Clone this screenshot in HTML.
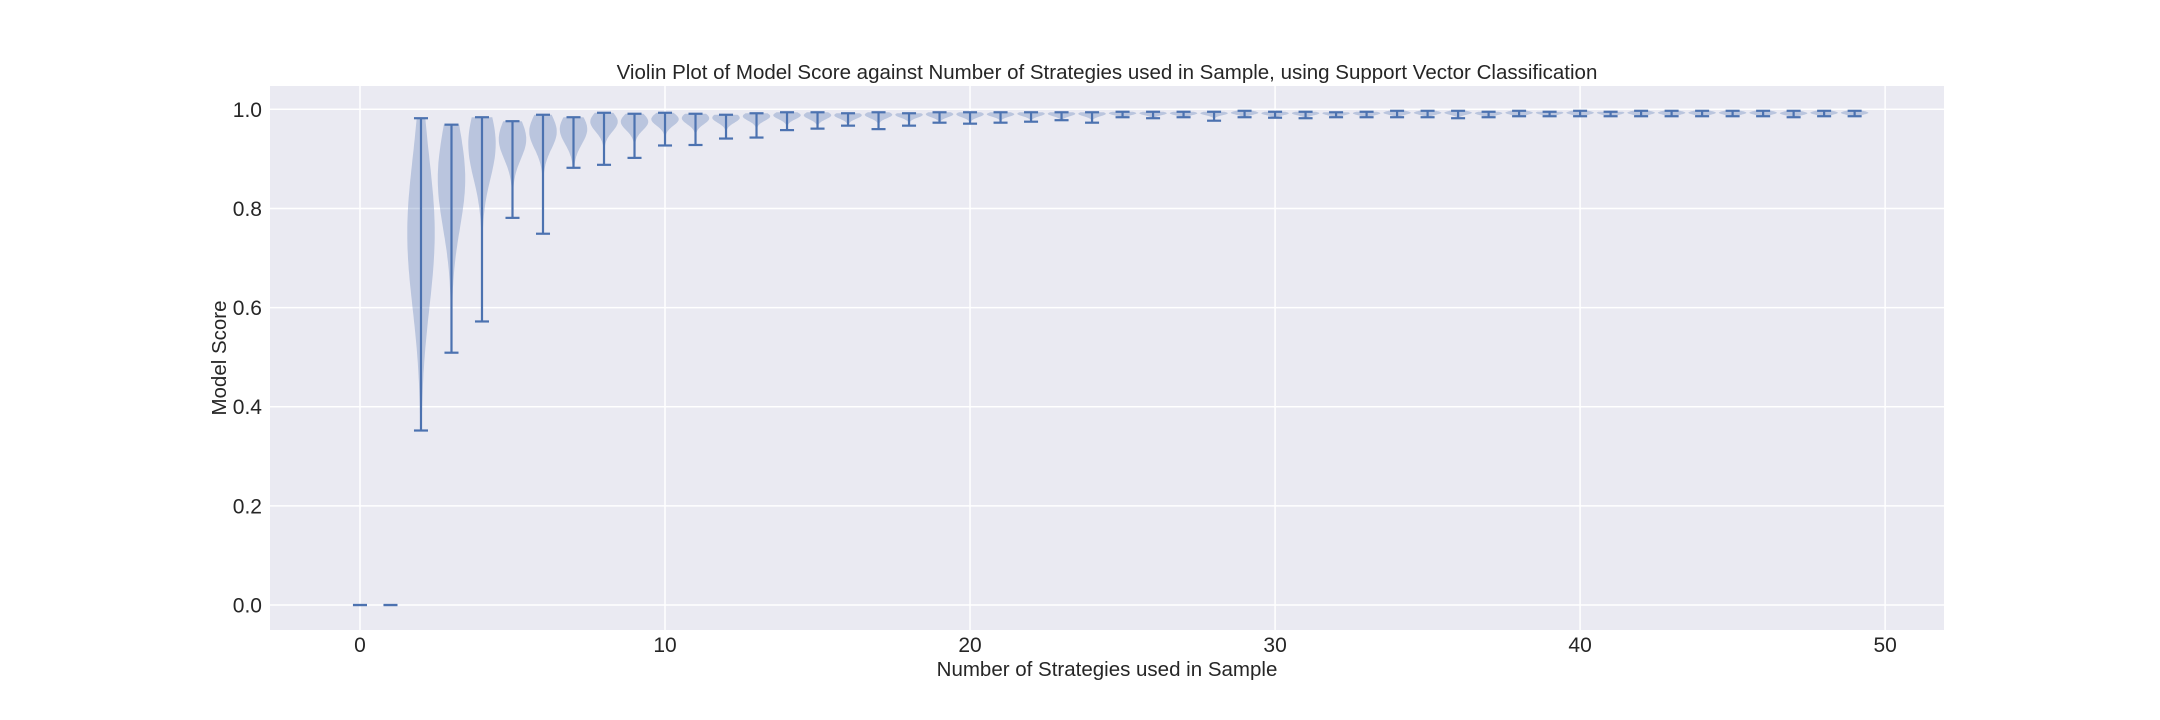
<!DOCTYPE html>
<html><head><meta charset="utf-8"><style>
html,body{margin:0;padding:0;background:#fff;}
svg{display:block;font-family:"Liberation Sans",Arial,sans-serif;}
</style></head><body>
<svg id="chart" width="2160" height="720" viewBox="0 0 2160 720">
<rect x="0" y="0" width="2160" height="720" fill="#fff"/>
<rect x="270" y="86" width="1674" height="544" fill="#eaeaf2"/>
<g id="grid"></g>
<g id="violins"></g>
<g id="ticks" font-size="21" fill="#262626"></g>
<text x="1107" y="79" text-anchor="middle" font-size="20.5" fill="#262626">Violin Plot of Model Score against Number of Strategies used in Sample, using Support Vector Classification</text>
<text x="1107" y="676" text-anchor="middle" font-size="20.5" fill="#262626">Number of Strategies used in Sample</text>
<text x="0" y="0" transform="translate(226,358) rotate(-90)" text-anchor="middle" font-size="20.5" fill="#262626">Model Score</text>
</svg>
<script>
const categories = Array.from({length:50},(_,i)=>i);
const maxVals = [0,0,.982,.969,.984,.976,.989,.984,.993,.991,.993,.991,.989,.992,.994,.994,.992,.994,.992,.994,.994,.994,.994,.994,.994,.995,.995,.995,.995,.997,.995,.995,.994,.995,.997,.997,.997,.995,.997,.995,.997,.995,.997,.997,.997,.997,.997,.997,.997,.997];
const minVals = [0,0,.352,.509,.572,.781,.749,.882,.888,.902,.927,.928,.941,.943,.958,.961,.967,.960,.967,.973,.971,.973,.975,.978,.973,.984,.982,.984,.977,.984,.983,.982,.984,.984,.984,.984,.982,.984,.986,.986,.986,.986,.986,.986,.986,.986,.986,.984,.986,.986];
const modeVals = [0,0,.75,.86,.93,.94,.955,.96,.975,.975,.98,.982,.983,.986,.988,.988,.988,.989,.989,.99,.99,.99,.991,.991,.991,.992,.992,.992,.992,.993,.992,.992,.992,.992,.993,.993,.993,.992,.993,.993,.993,.993,.993,.993,.993,.993,.993,.992,.993,.993];
const spreadVals = [0,0,.15,.1,.07,.04,.035,.03,.02,.017,.013,.012,.01,.009,.008,.008,.007,.007,.006,.006,.006,.005,.005,.005,.005,.004,.004,.004,.004,.004,.004,.004,.004,.004,.004,.004,.004,.004,.004,.004,.004,.004,.004,.004,.004,.004,.004,.004,.004,.004];
const xTicks = [0,10,20,30,40,50];
const yTicks = [0.0,0.2,0.4,0.6,0.8,1.0];

const NS='http://www.w3.org/2000/svg';
const X0=270,X1=1944,Y0=86,Y1=630;
const xMin=-2.95,xMax=51.93,yMin=-0.0504,yMax=1.047;
const xs=v=>X0+(v-xMin)/(xMax-xMin)*(X1-X0);
const ys=v=>Y1-(v-yMin)/(yMax-yMin)*(Y1-Y0);
function mk(tag,attrs,parent){const e=document.createElementNS(NS,tag);for(const k in attrs)e.setAttribute(k,attrs[k]);parent.appendChild(e);return e;}
const grid=document.getElementById('grid'),vg=document.getElementById('violins'),tg=document.getElementById('ticks');
xTicks.forEach(t=>{
  const l=mk('line',{x1:xs(t),x2:xs(t),y1:Y0,y2:Y1,stroke:'#fff','stroke-width':1.5},grid);
  
  
  const tx=mk('text',{x:xs(t),y:652,'text-anchor':'middle'},tg);
  tx.textContent=String(t);
  
  
});
yTicks.forEach(t=>{
  const l=mk('line',{x1:X0,x2:X1,y1:ys(t),y2:ys(t),stroke:'#fff','stroke-width':1.5},grid);
  
  
  const tx=mk('text',{x:262,y:ys(t)+7.5,'text-anchor':'end'},tg);
  tx.textContent=t.toFixed(1);
  
  
});
const hw=0.45;
categories.forEach((c,i)=>{
  const lo=minVals[i],hi=maxVals[i],m=modeVals[i],s=spreadVals[i];
  const g=mk('g',{},vg);
  
  
  if(hi>lo && s>0){
    const N=60,pts=[],dens=[];
    let mx=0;
    for(let j=0;j<=N;j++){const v=lo+(hi-lo)*j/N;const d=Math.exp(-0.5*((v-m)/s)**2)+0.02;dens.push([v,d]);if(d>mx)mx=d;}
    dens.forEach(([v,d])=>pts.push([xs(c+hw*d/mx),ys(v)]));
    for(let j=dens.length-1;j>=0;j--){const [v,d]=dens[j];pts.push([xs(c-hw*d/mx),ys(v)]);}
    const p=mk('polygon',{points:pts.map(p=>p[0].toFixed(1)+','+p[1].toFixed(1)).join(' '),fill:'#4c72b0','fill-opacity':0.3},g);
    
    
  }
  const cw=0.23;
  const a=mk('line',{x1:xs(c),x2:xs(c),y1:ys(lo),y2:ys(hi),stroke:'#4c72b0','stroke-width':2.2},g);
  
  
  const b=mk('line',{x1:xs(c-cw),x2:xs(c+cw),y1:ys(hi),y2:ys(hi),stroke:'#4c72b0','stroke-width':2.2},g);
  
  
  const d=mk('line',{x1:xs(c-cw),x2:xs(c+cw),y1:ys(lo),y2:ys(lo),stroke:'#4c72b0','stroke-width':2.2},g);
  
  
});
</script>
</body></html>
